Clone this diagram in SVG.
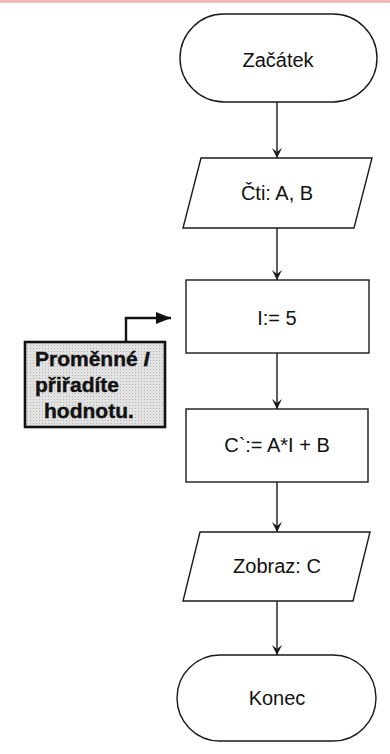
<svg xmlns="http://www.w3.org/2000/svg" width="390" height="754" viewBox="0 0 390 754">
  <style>
    .shape { fill: #ffffff; stroke: #1a1a1a; stroke-width: 1.4; }
    .label { font-family: "Liberation Sans", Arial, sans-serif; font-size: 20px; fill: #111; text-anchor: middle; }
    .flow { fill: none; stroke: #1a1a1a; stroke-width: 1.4; }
    .note { fill: url(#halftone); stroke: #111; stroke-width: 2.6; }
    .note-text { font-family: "Liberation Sans", Arial, sans-serif; font-size: 21px; font-weight: bold; fill: #111; stroke: #111; stroke-width: 0.4; }
    .pointer { fill: none; stroke: #111; stroke-width: 2.4; }
  </style>
  <defs>
    <!-- fine grey screen for the note box -->
    <pattern id="halftone" width="3" height="3" patternUnits="userSpaceOnUse">
      <rect width="3" height="3" fill="#e2e2e2"/>
      <rect width="1" height="1" fill="#b4b4b4"/>
    </pattern>
    <marker id="arrow" viewBox="-11 -6 12 12" markerWidth="12" markerHeight="12" refX="0" refY="0" orient="auto" markerUnits="userSpaceOnUse">
      <path d="M0,0 L-10,-5 L-6,0 L-10,5 Z" fill="#1a1a1a"/>
    </marker>
    <marker id="pointer-head" viewBox="-15 -7 16 14" markerWidth="16" markerHeight="14" refX="0" refY="0" orient="auto" markerUnits="userSpaceOnUse">
      <path d="M0,0 L-15,-6 L-15,6 Z" fill="#111"/>
    </marker>
  </defs>

  <!-- top band -->
  <rect x="0" y="0" width="390" height="3" fill="#f5b8b8"/>

  <!-- flow connectors -->
  <g id="connectors">
    <line class="flow" x1="277" y1="102" x2="277" y2="158" marker-end="url(#arrow)"/>
    <line class="flow" x1="277" y1="228" x2="277" y2="280" marker-end="url(#arrow)"/>
    <line class="flow" x1="277" y1="353" x2="277" y2="409" marker-end="url(#arrow)"/>
    <line class="flow" x1="277" y1="482" x2="277" y2="532" marker-end="url(#arrow)"/>
    <line class="flow" x1="277" y1="601" x2="277" y2="655" marker-end="url(#arrow)"/>
    <polyline class="pointer" points="126,342 126,318 171,318" marker-end="url(#pointer-head)"/>
  </g>

  <g id="start">
    <rect class="shape" x="180" y="14" width="197" height="88" rx="44" ry="44"/>
    <text class="label" x="278" y="67">Začátek</text>
  </g>

  <g id="read">
    <polygon class="shape" points="201,158 372,158 354,228 183,228"/>
    <text class="label" x="277" y="200">Čti: A, B</text>
  </g>

  <g id="assign-i">
    <rect class="shape" x="186" y="280" width="183" height="73"/>
    <text class="label" x="277" y="325">I:= 5</text>
  </g>

  <g id="compute-c">
    <rect class="shape" x="186" y="409" width="182" height="73"/>
    <text class="label" x="277" y="452">C`:= A*I + B</text>
  </g>

  <g id="show">
    <polygon class="shape" points="200,532 370,532 353,601 183,601"/>
    <text class="label" x="277" y="573">Zobraz: C</text>
  </g>

  <g id="end">
    <rect class="shape" x="177" y="655" width="199" height="86" rx="43" ry="43"/>
    <text class="label" x="277" y="705">Konec</text>
  </g>

  <g id="note">
    <rect class="note" x="25" y="342" width="140" height="85"/>
    <text class="note-text" x="35" y="366">Proměnné <tspan font-style="italic">I</tspan></text>
    <text class="note-text" x="35" y="392">přiřadíte</text>
    <text class="note-text" x="44" y="418">hodnotu.</text>
  </g>
</svg>
